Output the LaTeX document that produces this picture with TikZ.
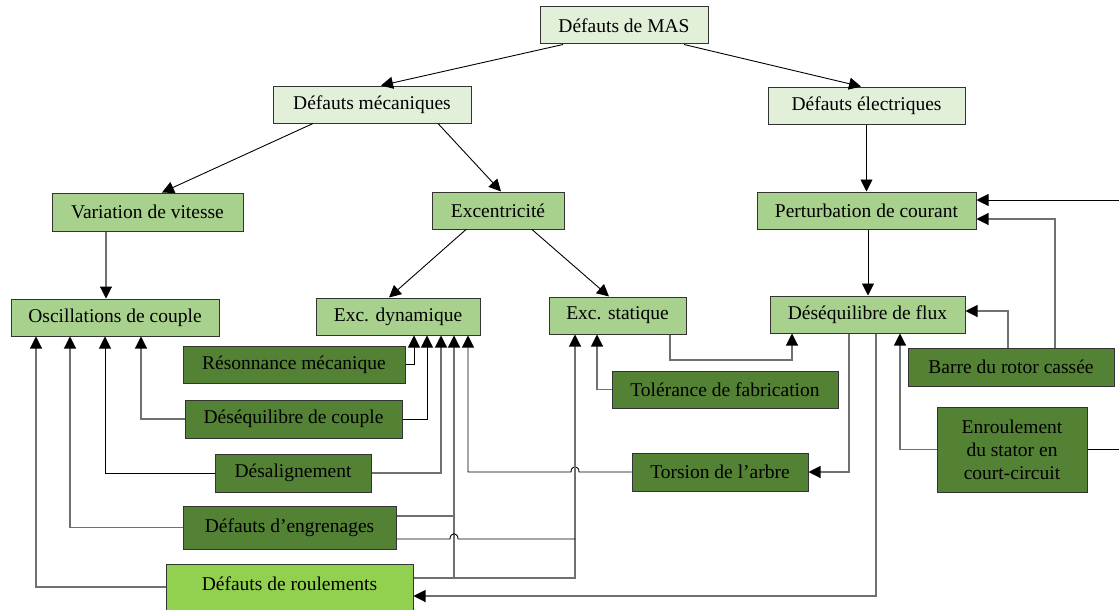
\documentclass[tikz,border=0pt]{standalone}
\usepackage{fontspec}
\setmainfont{Liberation Serif}
\usetikzlibrary{arrows.meta}
\definecolor{gLight}{HTML}{E2EFD9}
\definecolor{gMid}{HTML}{A9D18E}
\definecolor{gDark}{HTML}{548235}
\definecolor{gBright}{HTML}{92D050}
\definecolor{edgeC}{HTML}{333333}
\definecolor{wireC}{HTML}{707070}

\begin{document}
\begin{tikzpicture}[x=1pt,y=-1pt,
  box/.style={draw=edgeC, line width=1pt, inner sep=0pt, text=black,
              font=\fontsize{19.5}{23}\selectfont},
  lvlA/.style={box, fill=gLight},
  lvlB/.style={box, fill=gMid},
  lvlC/.style={box, fill=gDark},
  lvlD/.style={box, fill=gBright},
  tip/.style={-{Triangle[length=12pt,width=12pt,color=black]}},
  wg/.style={draw=wireC, line width=1.1pt},
  wk/.style={draw=black, line width=0.9pt},
]
\useasboundingbox (0,0) rectangle (1119,610);

% ---- boxes ----
\node[lvlA, minimum width=168, minimum height=37] (mas)   at (624,25.5)   {Défauts de MAS};
\node[lvlA, minimum width=198, minimum height=37] (mec)   at (372,104.5)  {Défauts mécaniques};
\node[lvlA, minimum width=197, minimum height=37] (elec)  at (866.5,105.5) {Défauts électriques};

\node[lvlB, minimum width=191, minimum height=38] (vit)   at (147.5,212)  {Variation de vitesse};
\node[lvlB, minimum width=132, minimum height=37] (exc)   at (498,210.5)  {Excentricité};
\node[lvlB, minimum width=219, minimum height=37] (pert)  at (866.5,210.5) {Perturbation de courant};

\node[lvlB, minimum width=208, minimum height=37] (osc)   at (115,317.5)  {Oscillations de couple};
\node[lvlB, minimum width=164, minimum height=37] (dyn)   at (398,316.5)  {Exc. dynamique};
\node[lvlB, minimum width=137, minimum height=37] (stat)  at (617.5,315.5) {Exc. statique};
\node[lvlB, minimum width=195, minimum height=37] (flux)  at (867.5,314.5) {Déséquilibre de flux};

\node[lvlC, minimum width=222, minimum height=37] (res)   at (294,364.5)  {Résonnance mécanique};
\node[lvlC, minimum width=217, minimum height=38] (desc)  at (293.5,419)  {Déséquilibre de couple};
\node[lvlC, minimum width=156, minimum height=38] (desal) at (293,473)    {Désalignement};
\node[lvlC, minimum width=213, minimum height=43] (eng)   at (289.5,527.5) {Défauts d’engrenages};
\node[lvlD, minimum width=247, minimum height=48] (roul)  at (289.5,588)  {};
\node[inner sep=0pt, font=\fontsize{19.5}{23}\selectfont] (roultxt) at (289.5,584) {Défauts de roulements};

\node[lvlC, minimum width=226, minimum height=37] (tol)   at (725,389.5)  {Tolérance de fabrication};
\node[lvlC, minimum width=176, minimum height=38] (tors)  at (720,472)    {Torsion de l’arbre};
\node[lvlC, minimum width=206, minimum height=38] (barre) at (1011,367)   {Barre du rotor cassée};
\node[lvlC, minimum width=150, minimum height=85, align=center] (enr) at (1012,449.5)
  {Enroulement\\du stator en\\court-circuit};

% free ends at the right margin
\coordinate (edgeTop) at (1119,200);
\coordinate (edgeLow) at (1119,449.5);

% ---- tree links ----
\draw[wk, tip] (563,0 |- mas.south) -- (381,0 |- mec.north);
\draw[wk, tip] (684,0 |- mas.south) -- (861,0 |- elec.north);
\draw[wk, tip] (313,0 |- mec.south) -- (162,0 |- vit.north);
\draw[wk, tip] (438,0 |- mec.south) -- (501,0 |- exc.north);
\draw[wk, tip] (elec.south) -- (pert.north);
\draw[wg, tip] (106,0 |- vit.south) -- (106,0 |- osc.north);
\draw[wk, tip] (466,0 |- exc.south) -- (389,0 |- dyn.north);
\draw[wk, tip] (532,0 |- exc.south) -- (609,0 |- stat.north);
\draw[wk, tip] (868,0 |- pert.south) -- (868,0 |- flux.north);

% ---- into Exc. dynamique ----
\draw[wk, tip] (res.east) -| (414,0 |- dyn.south);
\draw[wk, tip] (desc.east) -| (427,0 |- dyn.south);
\draw[wg, tip] (desal.east) -| (441,0 |- dyn.south);
\draw[wg, tip] (roul.east |- 0,578) -- (454,578) -- (454,0 |- dyn.south);
\draw[wg] (eng.east |- 0,516) -- (454,516);
\draw[wk, tip] (tors.west) -- (579,472) .. controls (579,465) and (571,465) .. (571,472)
  -- (468,472) -- (468,0 |- dyn.south);

% ---- into Oscillations de couple ----
\draw[wg, tip] (desc.west) -| (141,0 |- osc.south);
\draw[wk, tip] (desal.west) -| (105,0 |- osc.south);
\draw[wg, tip] (eng.west) -| (70,0 |- osc.south);
\draw[wg, tip] (roul.west |- 0,587) -| (36,0 |- osc.south);

% ---- into Exc. statique ----
\draw[wg, tip] (roul.east |- 0,578) -| (575,0 |- stat.south);
\draw[wk] (eng.east |- 0,539) -- (450,539) .. controls (450,532) and (458,532) .. (458,539)
  -- (575,539);
\draw[wg, tip] (tol.west) -| (597,0 |- stat.south);

% ---- electrical side ----
\draw[wg, tip] (670,0 |- stat.south) -- (670,360) -| (792,0 |- flux.south);
\draw[wg, tip] (849,0 |- flux.south) |- (tors.east);
\draw[wg, tip] (876,0 |- flux.south) |- (roul.east |- 0,596);
\draw[wg, tip] (enr.west) -| (900,0 |- flux.south);
\draw[wg, tip] (1008,0 |- barre.north) |- (flux.east |- 0,311);
\draw[wg, tip] (1055,0 |- barre.north) |- (pert.east |- 0,219);
\draw[wk, tip] (edgeTop) -- (pert.east |- edgeTop);
\draw[wk] (enr.east) -- (edgeLow);
\end{tikzpicture}
\end{document}
